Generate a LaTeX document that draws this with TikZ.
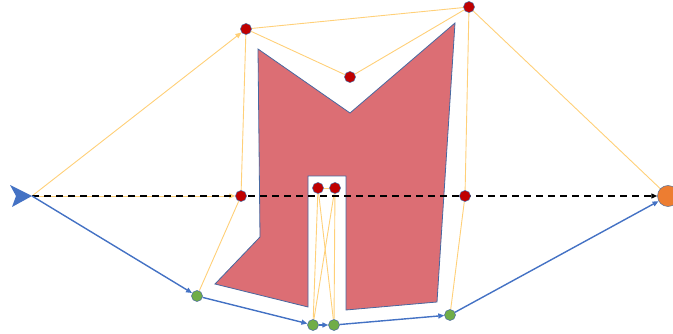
\documentclass[tikz,border=0pt]{standalone}
\usetikzlibrary{arrows.meta}
\pgfdeclarelayer{bottom}
\pgfdeclarelayer{edges}
\pgfsetlayers{bottom,edges,main}
\definecolor{shapefill}{RGB}{220,110,116}
\definecolor{shapeedge}{RGB}{72,104,160}
\definecolor{redn}{RGB}{192,0,0}
\definecolor{greenn}{RGB}{112,173,71}
\definecolor{orangen}{RGB}{237,125,49}
\definecolor{yel}{RGB}{255,208,120}
\definecolor{bl}{RGB}{68,114,196}
\begin{document}
\begin{tikzpicture}[x=1pt,y=-1pt,
  rednode/.style={circle,fill=redn,draw=shapeedge,line width=0.5pt,minimum size=11pt,inner sep=0pt},
  greennode/.style={circle,fill=greenn,draw=shapeedge,line width=0.5pt,minimum size=11pt,inner sep=0pt},
  endnode/.style={circle,fill=orangen,draw=shapeedge!70!gray,line width=0.5pt,minimum size=21pt,inner sep=0pt},
  yline/.style={draw=yel,line width=0.9pt},
  bline/.style={draw=bl,line width=1.4pt,-{Triangle[length=6pt,width=5pt]}},
  ytip/.style={-{Triangle[length=6pt,width=5pt]}},
  dline/.style={draw=black,line width=1.3pt,dash pattern=on 7pt off 5pt,-{Triangle[length=6pt,width=5pt]}},
  region/.style={fill=shapefill,draw=shapeedge,line width=0.8pt}]
\useasboundingbox (0,0) rectangle (673,334);
% obstacle shape
\begin{pgfonlayer}{bottom}
\path[region] (258,49) -- (350,113) -- (455,23) -- (437,302) -- (346,310) -- (346,176)
  -- (308,176) -- (308,307) -- (215,284) -- (260,237) -- cycle;
\end{pgfonlayer}
% start marker
\fill[bl] (32,196) -- (10,185) -- (16,196) -- (12,207) -- cycle;
\coordinate (s) at (32,196);
% nodes
\node[rednode] (A) at (246,29) {};
\node[rednode] (B) at (469,7) {};
\node[rednode] (C) at (350,77) {};
\node[rednode] (D) at (241,196) {};
\node[rednode] (E) at (318,188) {};
\node[rednode] (F) at (335,188) {};
\node[rednode] (G) at (465,196) {};
\node[greennode] (g1) at (197,296) {};
\node[greennode] (g2) at (313,325) {};
\node[greennode] (g3) at (334,325) {};
\node[greennode] (g4) at (450,315) {};
\node[endnode] (t) at (668,196) {};
\begin{pgfonlayer}{edges}
% yellow graph edges
\draw[yline,ytip] (s) -- (A);
\draw[yline,ytip] (s) -- (D);
\draw[yline] (A) -- (B);
\draw[yline] (A) -- (C);
\draw[yline] (C) -- (B);
\draw[yline] (B) -- (t);
\draw[yline] (A) -- (D);
\draw[yline] (D) -- (g1);
\draw[yline] (B) -- (G);
\draw[yline] (G) -- (g4);
\draw[yline] (E) -- (F);
\draw[yline] (E) -- (g2);
\draw[yline] (E) -- (g3);
\draw[yline] (F) -- (g2);
\draw[yline] (F) -- (g3);
% dashed straight line
\draw[dline] (s) -- (t);
% blue path
\draw[bline] (s) -- (g1);
\draw[bline] (g1) -- (g2);
\draw[bline] (g2) -- (g3);
\draw[bline] (g3) -- (g4);
\draw[bline] (g4) -- (t);
\end{pgfonlayer}
\end{tikzpicture}
\end{document}
